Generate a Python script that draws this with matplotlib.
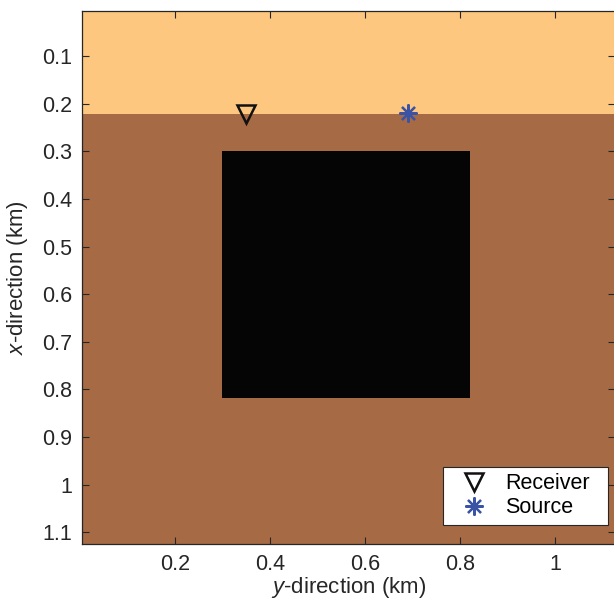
import numpy as np
import matplotlib
matplotlib.use("Agg")
import matplotlib.pyplot as plt
from matplotlib.colors import ListedColormap

plt.rcParams["font.family"] = ["Liberation Sans", "DejaVu Sans"]
plt.rcParams["mathtext.fontset"] = "custom"
plt.rcParams["mathtext.it"] = "Liberation Sans:italic"
plt.rcParams["mathtext.rm"] = "Liberation Sans"

# model geometry (km)
extent_min = 0.005
extent_max = 1.125
layer_depth = 0.224
box_x = [0.30, 0.82]   # x-direction (vertical axis)
box_y = [0.30, 0.82]   # y-direction (horizontal axis)

receiver_y = [0.35]
receiver_x = [0.222]
source_y = [0.69]
source_x = [0.22]

layer_colors = ["#FDC77F", "#A66A44", "#050505"]

# build model grid
n = 1121
coords = np.linspace(extent_min, extent_max, n)
Y, X = np.meshgrid(coords, coords)
model = np.where(X < layer_depth, 0, 1)
inside = (X >= box_x[0]) & (X <= box_x[1]) & (Y >= box_y[0]) & (Y <= box_y[1])
model = np.where(inside, 2, model)

fig = plt.figure(figsize=(6.14, 6.0), dpi=100)
ax = fig.add_axes([0.1336, 0.0933, 0.8674, 0.8884])

ax.imshow(model, cmap=ListedColormap(layer_colors), vmin=-0.5, vmax=2.5,
          extent=[extent_min, extent_max, extent_max, extent_min],
          interpolation="nearest", aspect="auto")

ax.plot(receiver_y, receiver_x, linestyle="none", marker="v", markersize=13,
        markerfacecolor="none", markeredgecolor="#111111", markeredgewidth=1.8,
        label="Receiver")
ax.plot(source_y, source_x, linestyle="none", marker=(8, 2, 0), markersize=13,
        color="#3A53A4", markeredgewidth=1.6, label="Source")

ax.set_xlim(extent_min, extent_max)
ax.set_ylim(extent_max, extent_min)
ax.set_xticks([0.2, 0.4, 0.6, 0.8, 1.0])
ax.set_xticklabels(["0.2", "0.4", "0.6", "0.8", "1"])
ax.set_yticks([0.1, 0.2, 0.3, 0.4, 0.5, 0.6, 0.7, 0.8, 0.9, 1.0, 1.1])
ax.set_yticklabels(["0.1", "0.2", "0.3", "0.4", "0.5", "0.6", "0.7", "0.8",
                    "0.9", "1", "1.1"])
ax.tick_params(direction="in", length=5, width=0.8, labelsize=15.5,
               top=True, right=True, colors="#262626", pad=7)
for s in ax.spines.values():
    s.set_color("#262626")
    s.set_linewidth(0.9)

ax.set_xlabel(r"$\it{y}$-direction (km)", fontsize=16, color="#262626", labelpad=0)
ax.set_ylabel(r"$\it{x}$-direction (km)", fontsize=16, color="#262626", labelpad=9)

leg = ax.legend(loc="lower right", fontsize=15.5, frameon=True, fancybox=False,
                framealpha=1, edgecolor="#262626", borderpad=0.3,
                handletextpad=0.3, handlelength=2.3, labelspacing=0.15,
                mode="expand", borderaxespad=0,
                bbox_to_anchor=(0.677, 0.036, 0.310, 0.1))
leg.get_frame().set_linewidth(0.8)

fig.savefig("out.png", dpi=100)
